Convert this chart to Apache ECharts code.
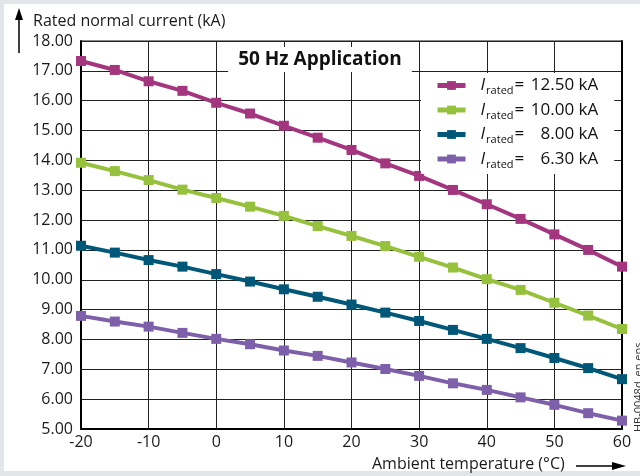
<!DOCTYPE html>
<html lang="en">
<head>
    <meta charset="UTF-8">
    <title>Rated current vs ambient temperature</title>
    <script src="https://cdn.jsdelivr.net/npm/echarts@6/dist/echarts.min.js"></script>
    <style>
        * { margin: 0; padding: 0; }
        body { background-color: #e3e6e9; overflow: hidden; }
        #main { width: 640px; height: 476px; }
    </style>
</head>
<body>
<div id="main"></div>
<script type="text/javascript">
    // ambient temperature (°C)
    var temps = [-20, -15, -10, -5, 0, 5, 10, 15, 20, 25, 30, 35, 40, 45, 50, 55, 60];
    // rated normal current (kA) per rated current
    var i1250 = [17.33, 17.03, 16.65, 16.33, 15.93, 15.57, 15.16, 14.76, 14.35, 13.90, 13.48, 13.01, 12.53, 12.04, 11.52, 11.00, 10.44];
    var i1000 = [13.92, 13.64, 13.34, 13.02, 12.74, 12.45, 12.14, 11.80, 11.47, 11.13, 10.77, 10.41, 10.02, 9.66, 9.23, 8.80, 8.35];
    var i800  = [11.14, 10.91, 10.66, 10.44, 10.19, 9.94, 9.68, 9.43, 9.17, 8.90, 8.62, 8.32, 8.02, 7.71, 7.38, 7.04, 6.67];
    var i630  = [8.79, 8.60, 8.43, 8.22, 8.02, 7.84, 7.63, 7.45, 7.23, 7.01, 6.78, 6.53, 6.31, 6.06, 5.81, 5.53, 5.28];
    var ratedLabels = ['12.50 kA', '10.00 kA', '8.00 kA', '6.30 kA'];
    var seriesData = [i1250, i1000, i800, i630];
    var colors = ['#a4367f', '#96c13c', '#005778', '#7e60aa'];

    var font = '"Open Sans", "Noto Sans", sans-serif';

    function pairs(vals) {
        var out = [];
        for (var i = 0; i < temps.length; i++) {
            out.push([temps[i], vals[i]]);
        }
        return out;
    }

    var series = [];
    for (var k = 0; k < seriesData.length; k++) {
        series.push({
            name: 'Irated = ' + ratedLabels[k],
            type: 'line',
            data: pairs(seriesData[k]),
            symbol: 'rect',
            symbolSize: 10,
            color: colors[k],
            lineStyle: { width: 4, color: colors[k] },
            itemStyle: { color: colors[k] },
            z: 3
        });
    }

    var myChart = echarts.init(document.getElementById('main'));
    var option = {
        backgroundColor: '#e3e6e9',
        animation: false,
        textStyle: { fontFamily: font },
        title: {
            text: '50 Hz Application',
            left: 'center',
            top: 47,
            padding: [3, 10],
            backgroundColor: '#fff',
            textStyle: { fontSize: 19, fontWeight: 'bold', color: '#111', fontFamily: font }
        },
        legend: {
            left: 421,
            top: 73,
            orient: 'vertical',
            padding: [4, 16, 4, 14],
            itemGap: 5,
            itemWidth: 28,
            itemHeight: 11,
            lineStyle: { width: 5 },
            backgroundColor: '#fff',
            formatter: function (name) {
                var idx = 0;
                for (var j = 0; j < ratedLabels.length; j++) {
                    if (name.indexOf(ratedLabels[j]) >= 0) idx = j;
                }
                return '{i|I}{s|rated}{e|=}{v|' + ratedLabels[idx] + '}';
            },
            textStyle: {
                fontFamily: font,
                color: '#111',
                rich: {
                    i: { fontSize: 17, fontStyle: 'italic', padding: [0, 1, 0, 10], lineHeight: 22, fontFamily: font },
                    s: { fontSize: 11, verticalAlign: 'bottom', lineHeight: 15, fontFamily: font },
                    e: { fontSize: 17, lineHeight: 22, fontFamily: font, padding: [0, 0, 0, 1] },
                    v: { fontSize: 17, width: 74, align: 'right', lineHeight: 22, fontFamily: font }
                }
            }
        },
        grid: {
            left: 81,
            right: 18,
            top: 41,
            bottom: 47,
            show: true,
            backgroundColor: '#fff',
            borderColor: '#111',
            borderWidth: 1
        },
        xAxis: {
            type: 'value',
            min: -20,
            max: 60,
            interval: 10,
            axisLine: { show: true, onZero: false, lineStyle: { color: '#000', width: 2 } },
            axisTick: { show: false },
            splitLine: { show: true, lineStyle: { color: '#222', width: 1 } },
            axisLabel: { color: '#1a1a1a', fontSize: 16, margin: 5, fontFamily: font }
        },
        yAxis: [
            {
                type: 'value',
                min: 5,
                max: 18,
                interval: 1,
                axisLine: { show: true, onZero: false, lineStyle: { color: '#000', width: 2 } },
                axisTick: { show: false },
                splitLine: { show: true, lineStyle: { color: '#222', width: 1 } },
                axisLabel: {
                    color: '#1a1a1a', fontSize: 16, margin: 8, fontFamily: font,
                    formatter: function (v) { return v.toFixed(2); }
                }
            },
            {
                type: 'value',
                position: 'right',
                min: 5,
                max: 18,
                interval: 1,
                axisLine: { show: true, onZero: false, lineStyle: { color: '#000', width: 2 } },
                axisTick: { show: false },
                splitLine: { show: false },
                axisLabel: { show: false }
            }
        ],
        graphic: [
            // white panel
            { type: 'rect', shape: { x: 4, y: 4, width: 640, height: 467 }, style: { fill: '#fff' }, z: -10, silent: true },
            // y axis name with arrow
            { type: 'line', shape: { x1: 19, y1: 53, x2: 19, y2: 18 }, style: { stroke: '#000', lineWidth: 1.5 } },
            { type: 'polygon', shape: { points: [[19, 8], [15, 20], [23, 20]] }, style: { fill: '#000' } },
            { type: 'text', x: 33, y: 21, style: { text: 'Rated normal current (kA)', font: '16px ' + font, fill: '#1a1a1a', textVerticalAlign: 'middle' } },
            // x axis name with arrow
            { type: 'text', x: 372, y: 464, style: { text: 'Ambient temperature (°C)', font: '16px ' + font, fill: '#1a1a1a', textVerticalAlign: 'middle' } },
            { type: 'line', shape: { x1: 576, y1: 466, x2: 614, y2: 466 }, style: { stroke: '#000', lineWidth: 1.5 } },
            { type: 'polygon', shape: { points: [[626, 466], [612, 462], [612, 470]] }, style: { fill: '#000' } },
            // document code
            { type: 'text', x: 633, y: 432, rotation: Math.PI / 2, style: { text: 'HB-0048d_en.eps', font: '11px ' + font, fill: '#333', textVerticalAlign: 'top' } }
        ],
        series: series
    };
    myChart.setOption(option);
</script>
</body>
</html>
